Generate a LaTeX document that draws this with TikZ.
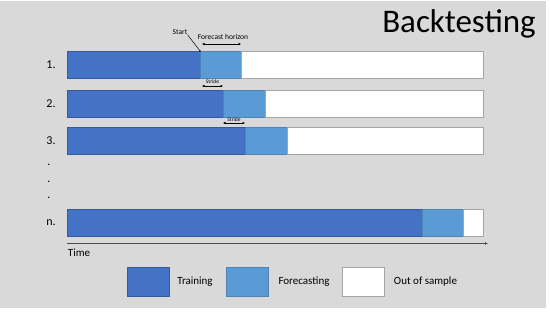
\documentclass[tikz,border=0pt]{standalone}
\usepackage{fontspec}
\setmainfont{Carlito}
\usepackage{xcolor}
\usetikzlibrary{arrows.meta}
\usetikzlibrary{calc}

\definecolor{trainblue}{HTML}{4472C4}
\definecolor{fcblue}{HTML}{5B9BD5}
\definecolor{bggray}{HTML}{D9D9D9}
\definecolor{edgegray}{HTML}{A5A5A5}

\begin{document}
\begin{tikzpicture}[x=1pt,y=-1pt,
	bar/.style={anchor=north west,inner sep=0pt,outer sep=0pt,minimum height=27.5pt,line width=0.5pt},
	trainbar/.style={bar,fill=trainblue,draw=trainblue!80!black},
	fcbar/.style={bar,fill=fcblue,draw=fcblue!85!black},
	oosbar/.style={bar,fill=white,draw=edgegray},
	rowlabel/.style={font=\fontsize{12}{14}\selectfont,inner sep=0pt},
	smalltxt/.style={font=\fontsize{7.5}{9}\selectfont,inner sep=0pt},
	stridetxt/.style={font=\fontsize{5.5}{6}\selectfont,inner sep=0pt},
	legtxt/.style={font=\fontsize{11}{13}\selectfont,inner sep=0pt},
	dimarrow/.style={{Latex[length=2.5pt,width=2.5pt]}-{Latex[length=2.5pt,width=2.5pt]},line width=0.5pt},
	legbox/.style={inner sep=0pt,minimum width=42pt,minimum height=29pt,line width=0.5pt}]
			
			% frame
			\useasboundingbox (0,0) rectangle (550,312);
			\fill[bggray] (0,1) rectangle (546,308);
			
			% title
			\node[font=\fontsize{33}{36}\selectfont] (ttl) at (459,24) {Backtesting};
			
			% row 1
			\node[trainbar,minimum width=133pt] (t1) at (67,51) {};
			\node[fcbar,minimum width=41pt] (f1) at (t1.north east) {};
			\node[oosbar,minimum width=242pt] (o1) at (f1.north east) {};
			\node[rowlabel] (l1) at (51,65) {1.};
			
			% row 2
			\node[trainbar,minimum width=156pt] (t2) at (67,90) {};
			\node[fcbar,minimum width=42pt] (f2) at (t2.north east) {};
			\node[oosbar,minimum width=218pt] (o2) at (f2.north east) {};
			\node[rowlabel] (l2) at (51,104) {2.};
			
			% row 3
			\node[trainbar,minimum width=178pt] (t3) at (67,127) {};
			\node[fcbar,minimum width=42pt] (f3) at (t3.north east) {};
			\node[oosbar,minimum width=196pt] (o3) at (f3.north east) {};
			\node[rowlabel] (l3) at (51,141) {3.};
			
			% dots
			\node[rowlabel] (d1) at (49,165) {.};
			\node[rowlabel] (d2) at (49,182) {.};
			\node[rowlabel] (d3) at (49,198) {.};
			
			% row n
			\node[trainbar,minimum width=355pt] (tn) at (67,209) {};
			\node[fcbar,minimum width=41pt] (fn) at (tn.north east) {};
			\node[oosbar,minimum width=20pt] (on) at (fn.north east) {};
			\node[rowlabel] (ln) at (51,223) {n.};
			
			% start and horizon
			\node[smalltxt] (start) at (180,32) {Start};
			\draw[line width=0.5pt] (start.south east) -- (f1.north west);
			\fill (f1.north west) circle (0.8pt);
			\node[smalltxt] (hor) at (223,37) {Forecast horizon};
			\coordinate (h1) at ($(f1.north west)+(2,-7)$);
			\coordinate (h2) at ($(f1.north east)+(0,-7)$);
			\draw[dimarrow] (h1) -- (h2);
			
			% strides
			\coordinate (s2a) at ($(t1.north east)+(2,35)$);
			\coordinate (s2b) at ($(t2.north east)+(0,-4)$);
			\draw[dimarrow] (s2a) -- (s2b);
			\node[stridetxt] (st2) at ($(s2a)!0.5!(s2b)+(0,-4)$) {Stride};
			\coordinate (s3a) at ($(t2.north east)+(0,-4)+(0,37)$);
			\coordinate (s3b) at ($(t3.north east)+(0,-4)$);
			\draw[dimarrow] (s3a) -- (s3b);
			\node[stridetxt] (st3) at ($(s3a)!0.5!(s3b)+(0,-3.5)$) {Stride};
			
			% time axis
			\coordinate (ta) at (67,243.5);
			\coordinate (tb) at (488,243.5);
			\draw[line width=0.8pt,black!70,-{Latex[length=3pt,width=3pt]}] (ta) -- (tb);
			\node[legtxt] (time) at (79,253) {Time};
			
			% legend
			\node[legbox,fill=trainblue,draw=trainblue!80!black] (k1) at (148.5,281.5) {};
			\node[legtxt] (k1t) at (195,281.5) {Training};
			\node[legbox,fill=fcblue,draw=fcblue!85!black] (k2) at (247,281.5) {};
			\node[legtxt] (k2t) at (304,281.5) {Forecasting};
			\node[legbox,fill=white,draw=edgegray] (k3) at (363,281.5) {};
			\node[legtxt] (k3t) at (425.5,281.5) {Out of sample};
			
		\end{tikzpicture}
\end{document}
